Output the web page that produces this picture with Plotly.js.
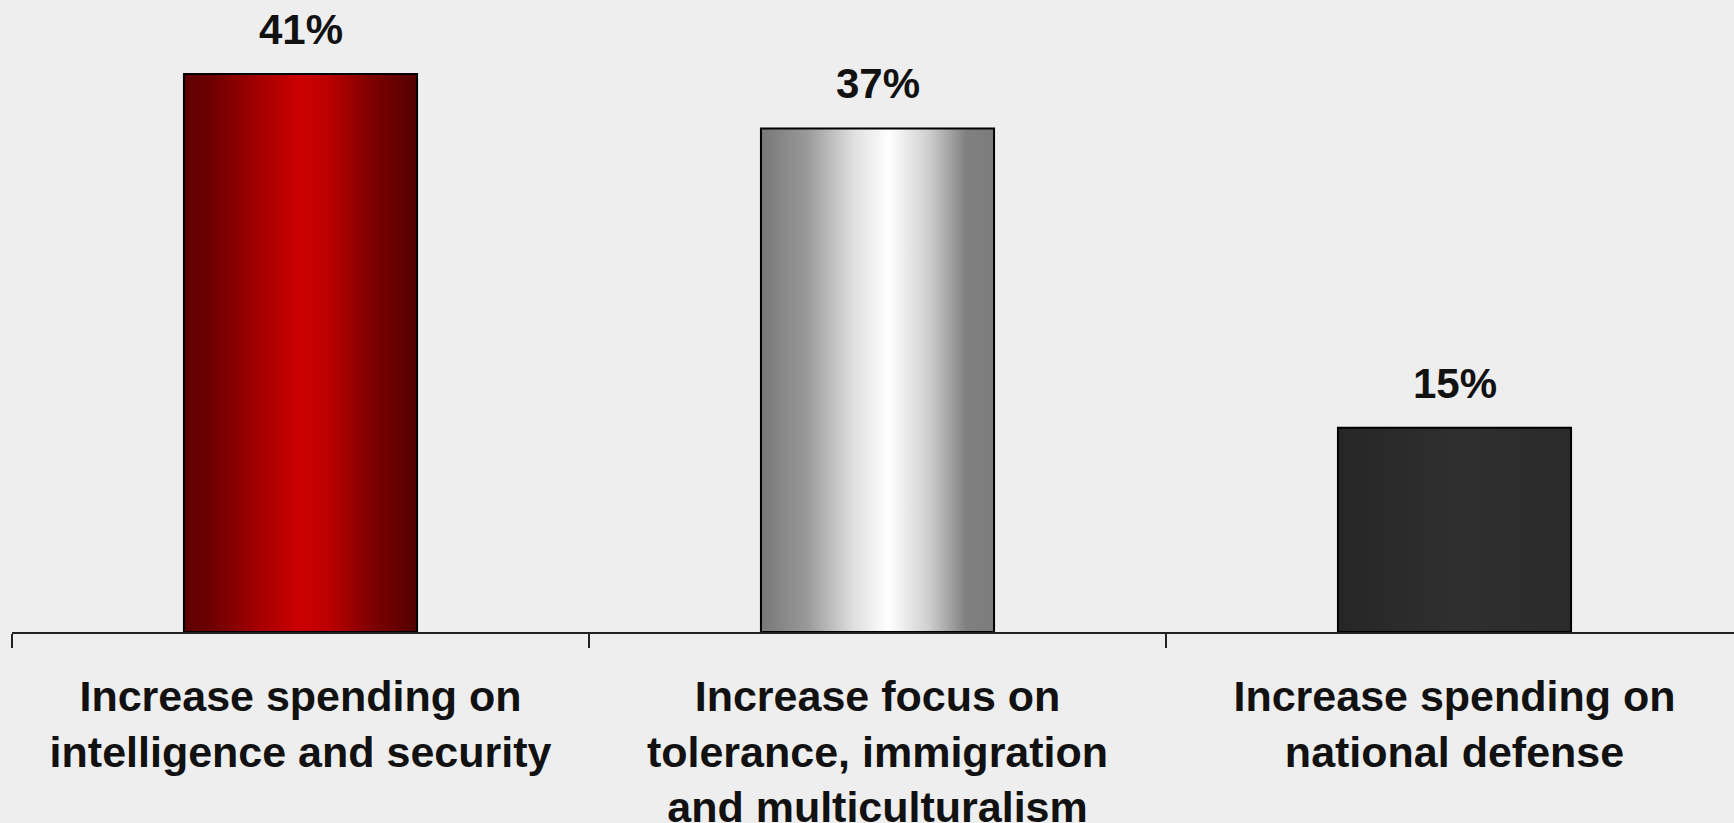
<!DOCTYPE html>
<html>
<head>
<meta charset="utf-8">
<script src="https://cdn.plot.ly/plotly-3.0.1.min.js"></script>
<style>
html,body{margin:0;padding:0;background:#eeeeee;overflow:hidden;}
#chart{width:1734px;height:823px;}
</style>
</head>
<body>
<div id="chart"></div>
<script>
const categories = [
  "Increase spending on<br>intelligence and security",
  "Increase focus on<br>tolerance, immigration<br>and multiculturalism",
  "Increase spending on<br>national defense"
];
const values = [41, 37, 15];
const valueLabels = values.map(v => v + "%");

const FONT = "Liberation Sans, Arial, sans-serif";

const trace = {
  type: "bar",
  x: categories,
  y: values,
  marker: {
    color: ["#b00000", "#d0d0d0", "#2b2b2b"],
    line: {color: "#000000", width: 2}
  },
  hoverinfo: "none",
  showlegend: false
};

const annotations = categories.map((c, i) => ({
  x: c, y: values[i], xref: "x", yref: "y",
  text: valueLabels[i], showarrow: false,
  yanchor: "bottom", yshift: 19,
  font: {family: FONT, size: 42, color: "#111111", weight: "bold"}
}));

const layout = {
  width: 1734, height: 823,
  margin: {l: 12, r: 0, t: 0, b: 191},
  paper_bgcolor: "#eeeeee",
  plot_bgcolor: "#eeeeee",
  bargap: 0.596,
  xaxis: {
    type: "category",
    range: [-0.5, 2.4844],
    showline: true, linecolor: "#222222", linewidth: 2,
    ticks: "outside", ticklen: 14, tickwidth: 2, tickcolor: "#222222",
    tickson: "boundaries",
    ticklabelstandoff: 25,
    showgrid: false, zeroline: false,
    tickfont: {family: FONT, size: 43, color: "#111111", weight: "bold"},
    fixedrange: true
  },
  yaxis: {
    range: [0, 46.44],
    visible: false, showgrid: false, zeroline: false,
    fixedrange: true
  },
  annotations: annotations,
  font: {family: FONT}
};

Plotly.newPlot("chart", [trace], layout, {staticPlot: true, displayModeBar: false}).then(gd => {
  const svg = gd.querySelector("svg.main-svg");
  const ns = "http://www.w3.org/2000/svg";
  let defs = svg.querySelector("defs");
  const grads = [
    [[0, "#5c0000"], [0.12, "#6e0000"], [0.3, "#a00000"], [0.5, "#cc0000"], [0.62, "#bb0000"], [0.8, "#800000"], [1, "#520000"]],
    [[0, "#777777"], [0.2, "#9a9a9a"], [0.4, "#e0e0e0"], [0.55, "#ffffff"], [0.72, "#cfcfcf"], [0.88, "#808080"], [1, "#7c7c7c"]],
    [[0, "#262626"], [0.5, "#2f2f2f"], [1, "#2b2b2b"]]
  ];
  grads.forEach((stops, i) => {
    const g = document.createElementNS(ns, "linearGradient");
    g.setAttribute("id", "barGrad" + i);
    g.setAttribute("x1", "0"); g.setAttribute("y1", "0");
    g.setAttribute("x2", "1"); g.setAttribute("y2", "0");
    stops.forEach(([o, c]) => {
      const s = document.createElementNS(ns, "stop");
      s.setAttribute("offset", o);
      s.setAttribute("stop-color", c);
      g.appendChild(s);
    });
    defs.appendChild(g);
  });
  const paths = gd.querySelectorAll(".barlayer .point path");
  paths.forEach((p, i) => { p.style.fill = "url(#barGrad" + i + ")"; });
});
</script>
</body>
</html>
